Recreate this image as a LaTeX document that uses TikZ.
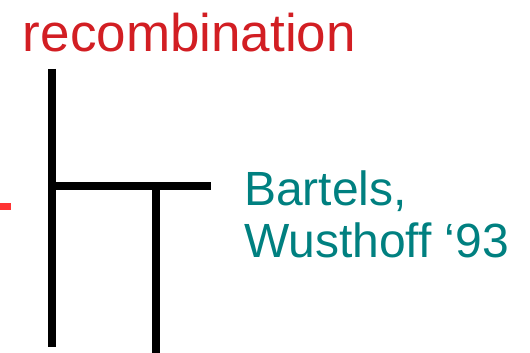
\documentclass[tikz,border=0pt]{standalone}
\usepackage{fontspec}
\setmainfont{Liberation Sans}
\definecolor{recred}{RGB}{210,30,35}
\definecolor{refteal}{RGB}{0,128,128}
\definecolor{tickred}{RGB}{255,51,51}
\begin{document}
\begin{tikzpicture}[x=1pt,y=-1pt,
  leg/.style={line width=8pt,line cap=butt,black},
  lbl/.style={inner sep=0pt,outer sep=0pt,anchor=base west},
  reftext/.style={lbl,text=refteal,font=\fontsize{48}{54}\selectfont}]
\useasboundingbox (0,0) rectangle (530,353);
% title
\node[lbl,text=recred,font=\fontsize{53}{60}\selectfont] (title) at (23,52) {recombination};
% ladder legs
\coordinate (ltop) at (52,69);
\coordinate (lbot) at (52,347);
\coordinate (rung0) at (48,186);
\coordinate (rungj) at (156,186);
\coordinate (rung1) at (211,186);
\coordinate (rbot) at (156,353);
\draw[leg] (ltop) -- (lbot);
\draw[leg] (rung0) -- (rung1);
\draw[leg] (rungj) -- (rbot);
% small tick on the left edge
\fill[tickred] (0,203) rectangle (11,210);
% reference
\node[reftext] (ref1) at (244,205) {Bartels,};
\node[reftext] (ref2) at (244,257) {Wusthoff ‘93};
\end{tikzpicture}
\end{document}
